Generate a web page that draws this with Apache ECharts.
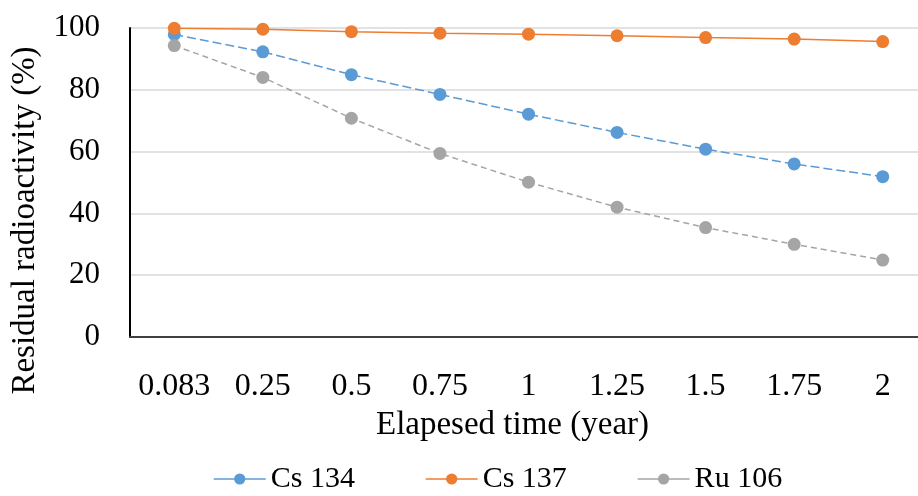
<!DOCTYPE html>
<html>
<head>
<meta charset="utf-8">
<script src="https://cdn.jsdelivr.net/npm/echarts@6/dist/echarts.min.js"></script>
<style>
  html, body { margin: 0; padding: 0; background: #fff; }
  #chart { width: 918px; height: 496px; }
</style>
</head>
<body>
<div id="chart"></div>
<script>
// elapsed time categories (year)
const years = ["0.083", "0.25", "0.5", "0.75", "1", "1.25", "1.5", "1.75", "2"];
// residual radioactivity (%)
const cs134 = [97.9, 92.3, 84.9, 78.5, 72.1, 66.2, 60.8, 56.0, 51.9];
const cs137 = [99.9, 99.6, 98.8, 98.3, 98.0, 97.5, 96.9, 96.4, 95.6];
const ru106 = [94.3, 84.0, 70.8, 59.4, 50.1, 42.0, 35.4, 30.0, 24.9];

const font = "'Liberation Serif', 'Times New Roman', serif";
const chart = echarts.init(document.getElementById("chart"));

function lineSeries(name, data, color, dash) {
  return {
    name: name,
    type: "line",
    data: data,
    symbol: "circle",
    symbolSize: 13,
    itemStyle: { color: color },
    lineStyle: { color: color, width: 1.5, type: dash || "solid" },
    animation: false
  };
}

chart.setOption({
  backgroundColor: "#fff",
  textStyle: { fontFamily: font },
  grid: { left: 130, top: 28, width: 797, height: 309, outerBoundsMode: "none" },
  legend: {
    left: 213,
    top: 464,
    padding: 0,
    itemWidth: 52,
    itemHeight: 14,
    itemGap: 70,
    lineStyle: { type: "solid", width: 1.5 },
    textStyle: { fontFamily: font, fontSize: 30, color: "#000" },
    data: ["Cs 134", "Cs 137", "Ru 106"]
  },
  xAxis: {
    type: "category",
    data: years,
    name: "Elapesed time (year)",
    nameLocation: "middle",
    nameGap: 72,
    nameTextStyle: { fontFamily: font, fontSize: 33, color: "#000", padding: [0, 32, 0, 0] },
    axisLine: { lineStyle: { color: "#404040", width: 2 } },
    axisTick: { show: false },
    axisLabel: { fontFamily: font, fontSize: 32, color: "#000", margin: 34, interval: 0 }
  },
  yAxis: {
    type: "value",
    min: 0,
    max: 100,
    interval: 20,
    name: "Residual radioactivity (%)",
    nameLocation: "middle",
    nameRotate: 90,
    nameGap: 88,
    nameTextStyle: { fontFamily: font, fontSize: 33, color: "#000", padding: [0, 76, 0, 0] },
    axisLine: { show: true, lineStyle: { color: "#000", width: 2 } },
    axisTick: { show: false },
    axisLabel: { fontFamily: font, fontSize: 31, color: "#000", margin: 30 },
    splitLine: { lineStyle: { color: "#d9d9d9", width: 1.5 } }
  },
  series: [
    lineSeries("Cs 134", cs134, "#5B9BD5", [9, 4]),
    lineSeries("Cs 137", cs137, "#ED7D31"),
    lineSeries("Ru 106", ru106, "#A5A5A5", [6, 4])
  ]
});
</script>
</body>
</html>
